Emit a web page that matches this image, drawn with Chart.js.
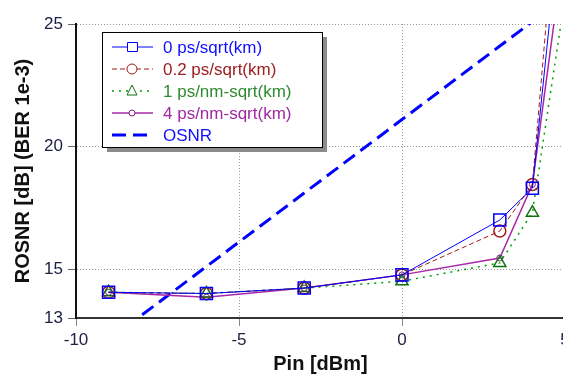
<!DOCTYPE html>
<html>
<head>
<meta charset="utf-8">
<script src="https://cdn.jsdelivr.net/npm/chart.js@4"></script>
<style>
html, body { margin: 0; padding: 0; background: #fff; overflow: hidden; }
#wrap { width: 575px; height: 374px; }
</style>
</head>
<body>
<div id="wrap"><canvas id="rosnrChart" width="575" height="374"></canvas></div>
<script>
// Pin [dBm] sample points
const pin = [-9, -6, -3, 0, 3, 4, 5];
// ROSNR [dB] per dispersion setting
const rosnrPmd0 = [14.05, 14.0, 14.22, 14.76, 17.0, 18.3, 31.2];
const rosnrPmd02 = [14.05, 14.0, 14.22, 14.76, 16.55, 18.45, 34.0];
const rosnrPmd1 = [14.05, 14.0, 14.22, 14.5, 15.25, 17.3, 26.1];
const rosnrPmd4 = [14.05, 13.85, 14.22, 14.76, 15.45, 18.45, 28.4];
const osnr = [12.1, 15.1, 18.1, 21.1, 24.1, 25.1, 26.1];

const seriesNames = ['0 ps/sqrt(km)', '0.2 ps/sqrt(km)', '1 ps/nm-sqrt(km)', '4 ps/nm-sqrt(km)', 'OSNR'];
const xTicks = [-10, -5, 0, 5];
const yTicks = [13, 15, 20, 25];

const pts = ys => pin.map((x, i) => ({ x: x, y: ys[i] }));

const fontFam = '"Liberation Sans", Arial, sans-serif';
const tickColor = '#202048';

// legend box with line + marker samples, like the original plot
const boxLegend = {
    id: 'boxLegend',
    afterDraw(chart) {
        const ctx = chart.ctx;
        const x0 = 102, y0 = 32, w = 220, h = 115;
        ctx.save();
        ctx.fillStyle = '#8c8c8c';
        ctx.fillRect(x0 + 5, y0 + 5, w, h);
        ctx.fillStyle = '#fff';
        ctx.fillRect(x0, y0, w, h);
        ctx.strokeStyle = '#000';
        ctx.lineWidth = 1;
        ctx.strokeRect(x0 + 0.5, y0 + 0.5, w, h);
        chart.data.datasets.forEach((ds, i) => {
            const y = 47 + i * 22;
            ctx.strokeStyle = ds.borderColor;
            ctx.lineWidth = ds.borderWidth;
            ctx.setLineDash(ds.borderDash || []);
            ctx.beginPath();
            ctx.moveTo(112, y);
            ctx.lineTo(153, y);
            ctx.stroke();
            ctx.setLineDash([]);
            ctx.lineWidth = 1;
            ctx.fillStyle = '#fff';
            ctx.strokeStyle = ds.pointBorderColor || ds.borderColor;
            ctx.beginPath();
            if (ds.pointStyle === 'rect') {
                ctx.rect(127.5, y - 4.5, 10, 9);
            } else if (ds.pointStyle === 'triangle') {
                ctx.moveTo(132, y - 6);
                ctx.lineTo(137, y + 4);
                ctx.lineTo(127, y + 4);
                ctx.closePath();
            } else if (ds.pointStyle === 'circle' && ds.pointRadius > 0) {
                ctx.arc(132, y, ds.pointRadius > 4 ? 5 : 3, 0, Math.PI * 2);
            }
            ctx.fill();
            ctx.stroke();
            ctx.fillStyle = ds.legendText;
            ctx.font = '17px ' + fontFam;
            ctx.textBaseline = 'middle';
            ctx.fillText(ds.label, 163, y + 1);
        });
        ctx.restore();
    }
};

const ctx = document.getElementById('rosnrChart').getContext('2d');
const rosnrChart = new Chart(ctx, {
    type: 'line',
    data: {
        datasets: [{
            label: seriesNames[0],
            data: pts(rosnrPmd0),
            borderColor: '#0000ff',
            legendText: '#1010ff',
            borderWidth: 1,
            pointStyle: 'rect',
            pointRadius: 8.5,
            pointBorderWidth: 1.5,
            pointBackgroundColor: 'rgba(0,0,0,0)'
        }, {
            label: seriesNames[1],
            data: pts(rosnrPmd02),
            borderColor: '#a01818',
            legendText: '#a02020',
            borderWidth: 1,
            borderDash: [5, 3],
            pointStyle: 'circle',
            pointRadius: 6,
            pointBorderWidth: 1.5,
            pointBackgroundColor: 'rgba(0,0,0,0)'
        }, {
            label: seriesNames[2],
            data: pts(rosnrPmd1),
            borderColor: '#00a000',
            pointBorderColor: '#107010',
            legendText: '#308a30',
            borderWidth: 1.5,
            borderDash: [2, 5],
            pointStyle: 'triangle',
            pointRadius: 7,
            pointBorderWidth: 1.5,
            pointBackgroundColor: 'rgba(0,0,0,0)'
        }, {
            label: seriesNames[3],
            data: pts(rosnrPmd4),
            borderColor: '#a828a8',
            pointBorderColor: '#802080',
            legendText: '#a02aa0',
            borderWidth: 1.5,
            pointStyle: 'circle',
            pointRadius: 3,
            pointBorderWidth: 1,
            pointBackgroundColor: 'rgba(0,0,0,0)'
        }, {
            label: seriesNames[4],
            data: pts(osnr),
            borderColor: '#0000ff',
            legendText: '#1010ff',
            borderWidth: 3,
            borderDash: [14, 7],
            pointRadius: 0,
            pointStyle: 'circle'
        }]
    },
    options: {
        responsive: false,
        animation: false,
        layout: { padding: { top: 24, left: 0, right: 0, bottom: 0 } },
        plugins: {
            legend: { display: false },
            tooltip: { enabled: false }
        },
        scales: {
            x: {
                type: 'linear',
                min: -10,
                max: 5,
                afterBuildTicks: s => { s.ticks = xTicks.map(v => ({ value: v })); },
                afterFit: s => { s.height = 56; },
                ticks: { color: tickColor, padding: 4, font: { size: 17, family: fontFam } },
                grid: { color: '#9a9a9a', tickColor: '#888', tickLength: 8, tickBorderDash: [] },
                border: { color: '#333', width: 2, dash: [1, 2] },
                title: {
                    display: true,
                    text: 'Pin [dBm]',
                    color: '#111',
                    padding: { top: 0, bottom: 0 },
                    font: { size: 20, weight: 'bold', family: fontFam, lineHeight: 1 }
                }
            },
            y: {
                min: 13,
                max: 25,
                afterBuildTicks: s => { s.ticks = yTicks.map(v => ({ value: v })); },
                afterFit: s => { s.width = 76; },
                ticks: { color: tickColor, padding: 5, font: { size: 17, family: fontFam } },
                grid: { color: '#9a9a9a', tickColor: '#666', tickLength: 8, tickBorderDash: [] },
                border: { color: '#111', width: 2, dash: [1, 2] },
                title: {
                    display: true,
                    text: 'ROSNR [dB] (BER 1e-3)',
                    color: '#111',
                    padding: { top: 13, bottom: 0 },
                    font: { size: 20, weight: 'bold', family: fontFam, lineHeight: 1 }
                }
            }
        }
    },
    plugins: [boxLegend]
});
</script>
</body>
</html>
